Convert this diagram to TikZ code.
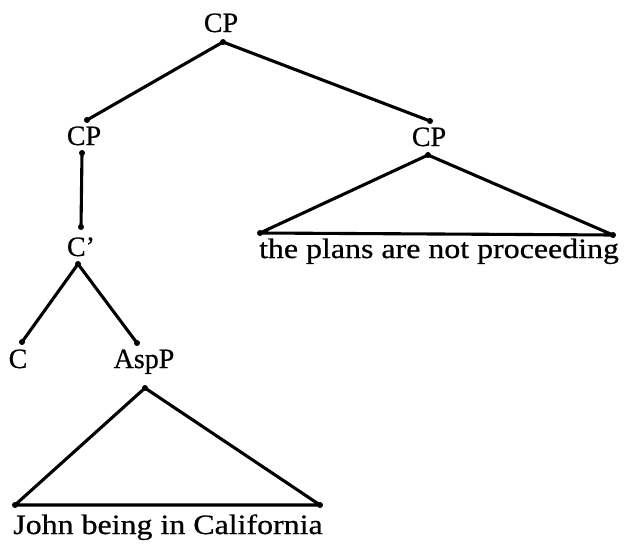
\documentclass[tikz,border=0pt]{standalone}
\usepackage{fontspec}
\setmainfont{Liberation Serif}[FakeBold=0.6]
\newcommand{\widetext}[1]{\scalebox{1.14}[1]{#1}}
\begin{document}
\begin{tikzpicture}[x=1pt,y=-1pt,
  lbl/.style={anchor=base,inner sep=0pt,font=\fontsize{28}{34}\selectfont},
  branch/.style={line width=3.1pt,line cap=round,line join=round},
  tip/.style={circle,fill=black,inner sep=0pt,minimum size=6pt}]
\useasboundingbox (0,0) rectangle (624,546);

% labels
\node[lbl] (top)  at (221,32)  {CP};
\node[lbl] (lcp)  at (84,145)  {CP};
\node[lbl] (rcp)  at (429,146) {CP};
\node[lbl] (cbar) at (81,256)  {C’};
\node[lbl] (c)    at (18,368)  {C};
\node[lbl] (asp)  at (144,368) {AspP};
\node[lbl] (plans) at (439,258) {\widetext{the plans are not proceeding}};
\node[lbl] (john)  at (168,534) {\widetext{John being in California}};

% branch end points
\node[tip] (topA) at (223,42)  {};
\node[tip] (lcpT) at (87,120)  {};
\node[tip] (rcpT) at (430,121) {};
\node[tip] (lcpB) at (82,153)  {};
\node[tip] (cbT)  at (81,227)  {};
\node[tip] (cbB)  at (78,264)  {};
\node[tip] (cT)   at (22,342)  {};
\node[tip] (aT)   at (137,343) {};
\node[tip] (rA)   at (428,155) {};
\node[tip] (rL)   at (260,233) {};
\node[tip] (rR)   at (613,235) {};
\node[tip] (aA)   at (145,388) {};
\node[tip] (aL)   at (15,505)  {};
\node[tip] (aR)   at (320,505) {};

% branches
\draw[branch] (topA.center) -- (lcpT.center);
\draw[branch] (topA.center) -- (rcpT.center);
\draw[branch] (lcpB.center) -- (cbT.center);
\draw[branch] (cbB.center) -- (cT.center);
\draw[branch] (cbB.center) -- (aT.center);
% triangles over the unanalysed strings
\draw[branch] (rA.center) -- (rL.center) -- (rR.center) -- cycle;
\draw[branch] (aA.center) -- (aL.center) -- (aR.center) -- cycle;
\end{tikzpicture}
\end{document}
